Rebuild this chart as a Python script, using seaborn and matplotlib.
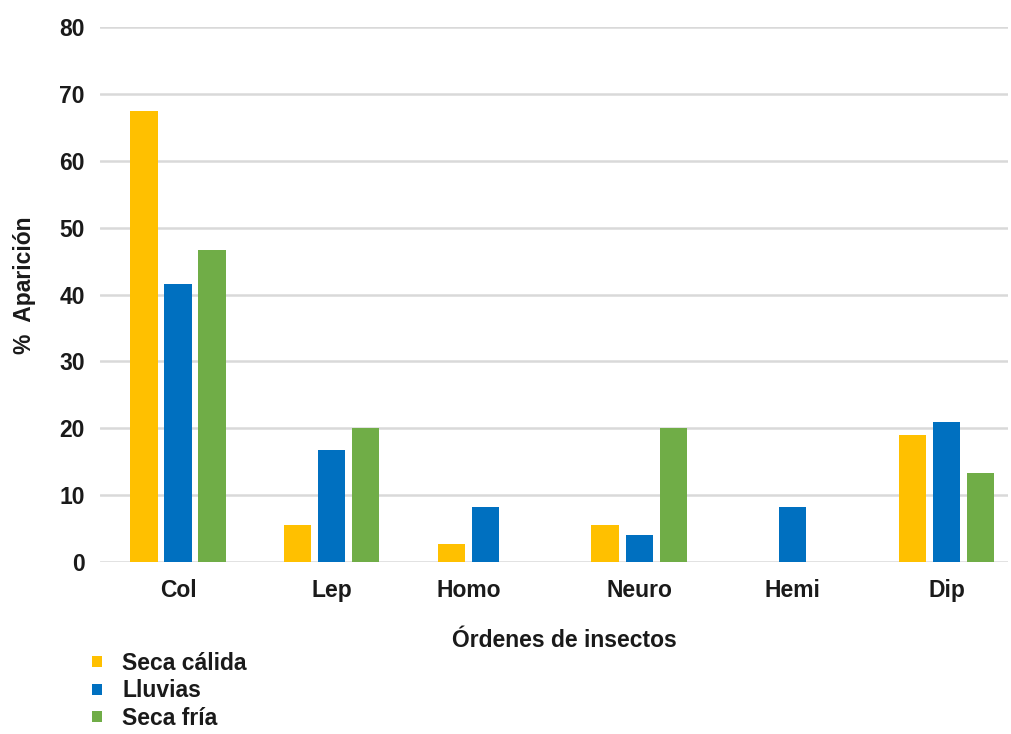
import numpy as np
import pandas as pd
import matplotlib
matplotlib.use("Agg")
import matplotlib.pyplot as plt
import seaborn as sns

# Porcentaje de aparición por orden de insecto y temporada
ordenes = ["Col", "Lep", "Homo", "Neuro", "Hemi", "Dip"]
temporadas = ["Seca cálida", "Lluvias", "Seca fría"]
seca_calida = [67.4, 5.5, 2.7, 5.5, np.nan, 19.0]
lluvias = [41.5, 16.8, 8.3, 4.1, 8.3, 21.0]
seca_fria = [46.6, 20.0, np.nan, 20.0, np.nan, 13.3]
colores = ["#FFC000", "#0070C0", "#70AD47"]
y_ticks = [0, 10, 20, 30, 40, 50, 60, 70, 80]

sns.set_theme(style="white")
plt.rcParams["font.family"] = ["Liberation Sans", "DejaVu Sans"]
plt.rcParams["font.weight"] = "bold"
FS = 16.5
TXT = "#1a1a1a"

series = dict(zip(temporadas, [seca_calida, lluvias, seca_fria]))
df = pd.DataFrame({"orden": np.repeat(ordenes, len(temporadas)),
                   "temporada": temporadas * len(ordenes),
                   "valor": [series[t][i] for i in range(len(ordenes)) for t in temporadas]})
df = df.dropna()

fig = plt.figure(figsize=(10.11, 7.34), dpi=100)
ax = fig.add_axes([0.0989, 0.2343, 0.8981, 0.7289])

ancho = 0.664
sns.barplot(data=df, x="orden", y="valor", hue="temporada", order=ordenes,
            hue_order=temporadas, palette=colores, dodge=True, width=ancho,
            gap=0.2, saturation=1, errorbar=None, linewidth=0, ax=ax, legend=True)

# Cada etiqueta se centra bajo las barras presentes de su orden
slot = ancho / len(temporadas)
tick_pos = []
for i in range(len(ordenes)):
    ks = [k for k, t in enumerate(temporadas) if not np.isnan(series[t][i])]
    tick_pos.append(i + (np.mean(ks) - (len(temporadas) - 1) / 2) * slot)
ax.set_xticks(tick_pos)
ax.set_xticklabels(ordenes)
ax.set_xlim(-0.508, 5.40)
ax.set_ylim(0, 80)
ax.set_yticks(y_ticks)

for s in ax.spines.values():
    s.set_visible(False)
ax.yaxis.grid(True, color="#d9d9d9", linewidth=1.8)
ax.xaxis.grid(False)
ax.set_axisbelow(True)

ax.tick_params(axis="y", length=0, pad=11, labelsize=FS, labelcolor=TXT)
ax.tick_params(axis="x", length=0, pad=12, labelsize=FS, labelcolor=TXT)
for lab in ax.get_xticklabels() + ax.get_yticklabels():
    lab.set_fontweight("bold")

ax.set_ylabel("%  Aparición", fontsize=FS, fontweight="bold", color=TXT)
ax.yaxis.label.set_va("center")
ax.yaxis.set_label_coords(-0.083, 0.518)
ax.set_xlabel("Órdenes de insectos", fontsize=FS, fontweight="bold", color=TXT)
ax.xaxis.label.set_va("center")
ax.xaxis.set_label_coords(0.511, -0.146)

handles, labels = ax.get_legend_handles_labels()
ax.legend_.remove()
leg = fig.legend(handles, labels, loc="upper left", bbox_to_anchor=(0.091, 0.112),
                 frameon=False, handlelength=0.44, handleheight=0.35,
                 handletextpad=0.87, labelspacing=0.2, borderpad=0, borderaxespad=0,
                 prop={"weight": "bold", "size": FS})
for t in leg.get_texts():
    t.set_color(TXT)

fig.savefig("out.png", dpi=100)
